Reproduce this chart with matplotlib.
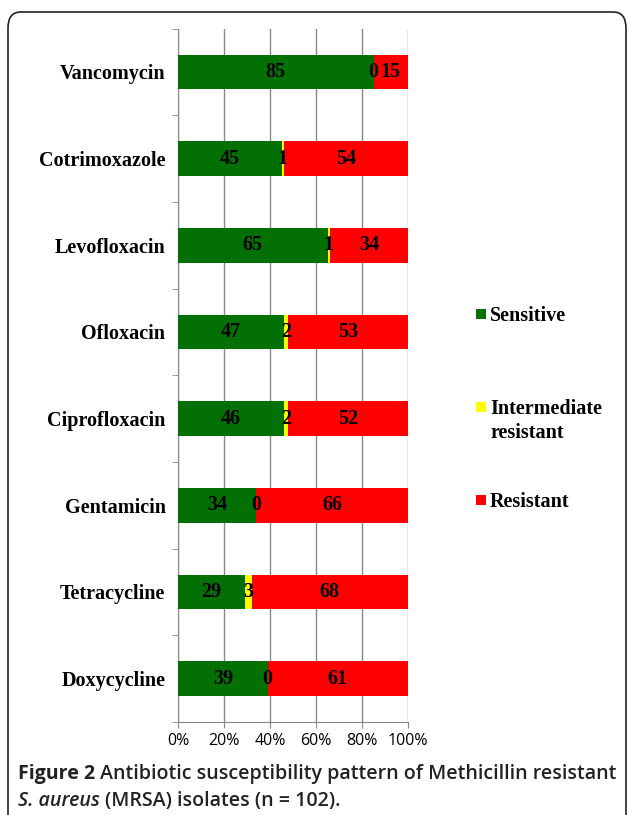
import matplotlib
matplotlib.use('Agg')
import matplotlib.pyplot as plt
from matplotlib.patches import FancyBboxPatch, Rectangle
import numpy as np

drugs = ['Vancomycin', 'Cotrimoxazole', 'Levofloxacin', 'Ofloxacin',
         'Ciprofloxacin', 'Gentamicin', 'Tetracycline', 'Doxycycline']
sensitive = [85, 45, 65, 47, 46, 34, 29, 39]
intermediate = [0, 1, 1, 2, 2, 0, 3, 0]
resistant = [15, 54, 34, 53, 52, 66, 68, 61]
series_names = ['Sensitive', 'Intermediate\nresistant', 'Resistant']
colors = ['#037003', '#ffff00', '#ff0000']
xticks = [0, 20, 40, 60, 80, 100]

serif = 'Liberation Serif'
sans = 'Open Sans'

fig = plt.figure(figsize=(6.29, 8.15), dpi=100)
fig.patch.set_facecolor('white')

# rounded frame round the whole figure (open at the bottom edge)
frame = FancyBboxPatch((8 / 629, -0.02), 618 / 629, 1 - 12 / 815 + 0.02,
                       boxstyle='round,pad=0,rounding_size=0.02',
                       transform=fig.transFigure, fill=False,
                       edgecolor='#222222', linewidth=1.2)
fig.patches.append(frame)

ax = fig.add_axes([178 / 629, 1 - 722 / 815, 230 / 629, (722 - 28.6) / 815])

vals = np.array([sensitive, intermediate, resistant], dtype=float)
pct = vals / vals.sum(axis=0) * 100
y = np.arange(len(drugs))
left = np.zeros(len(drugs))
for i in range(3):
    ax.barh(y, pct[i], left=left, height=0.4, color=colors[i],
            edgecolor='none', zorder=3)
    for j in range(len(drugs)):
        ax.text(left[j] + pct[i][j] / 2, y[j], str(int(vals[i][j])),
                ha='center', va='center', fontsize=14.5, fontweight='bold',
                family=serif, color='black', zorder=4)
    left += pct[i]

ax.set_xlim(0, 100)
ax.set_ylim(len(drugs) - 0.5, -0.5)
ax.set_xticks(xticks)
ax.set_xticklabels([f'{t}%' for t in xticks], family=sans, fontsize=11.5)
ax.set_yticks(y)
ax.set_yticklabels(drugs, family=serif, fontsize=14.5, fontweight='bold')
ax.set_yticks(np.arange(-0.5, len(drugs)), minor=True)
ax.tick_params(axis='y', which='major', length=0, pad=9)
ax.tick_params(axis='y', which='minor', length=4, color='#888888')
ax.tick_params(axis='x', length=4, color='#888888', pad=4)
ax.xaxis.grid(True, color='#888888', linewidth=1, zorder=0)
ax.set_axisbelow(True)
for s in ['top', 'right']:
    ax.spines[s].set_visible(False)
for s in ['left', 'bottom']:
    ax.spines[s].set_color('#888888')

# legend, drawn by hand so the square lines up with the first text line
leg_y = [317, 410, 503]
for name, c, ly in zip(series_names, colors, leg_y):
    fig.patches.append(Rectangle((476 / 629, 1 - (ly + 2) / 815), 10 / 629, 10 / 815,
                                 transform=fig.transFigure, facecolor=c,
                                 edgecolor='none'))
    fig.text(490 / 629, 1 - (ly - 11) / 815, name, family=serif, fontsize=14.5,
             fontweight='bold', va='top', ha='left', linespacing=1.25)

# caption
fig.canvas.draw()
r = fig.canvas.get_renderer()
cap_size = 14.1
t1 = fig.text(18 / 629, 1 - 774 / 815, 'Figure 2', family=sans, fontsize=cap_size,
              fontweight='bold', va='center', ha='left', color='#222222')
bb = t1.get_window_extent(r)
fig.text(bb.x1 / 629 + 0.008, 1 - 774 / 815,
         'Antibiotic susceptibility pattern of Methicillin resistant',
         family=sans, fontsize=cap_size, fontweight='semibold', va='center',
         ha='left', color='#222222')
t2 = fig.text(18 / 629, 1 - 801 / 815, 'S. aureus', family=sans, fontsize=cap_size,
              fontweight='semibold', style='italic', va='center', ha='left',
              color='#222222')
bb2 = t2.get_window_extent(r)
fig.text(bb2.x1 / 629 + 0.008, 1 - 801 / 815, '(MRSA) isolates (n = 102).',
         family=sans, fontsize=cap_size, fontweight='semibold', va='center',
         ha='left', color='#222222')

fig.savefig('out.png', dpi=100)
